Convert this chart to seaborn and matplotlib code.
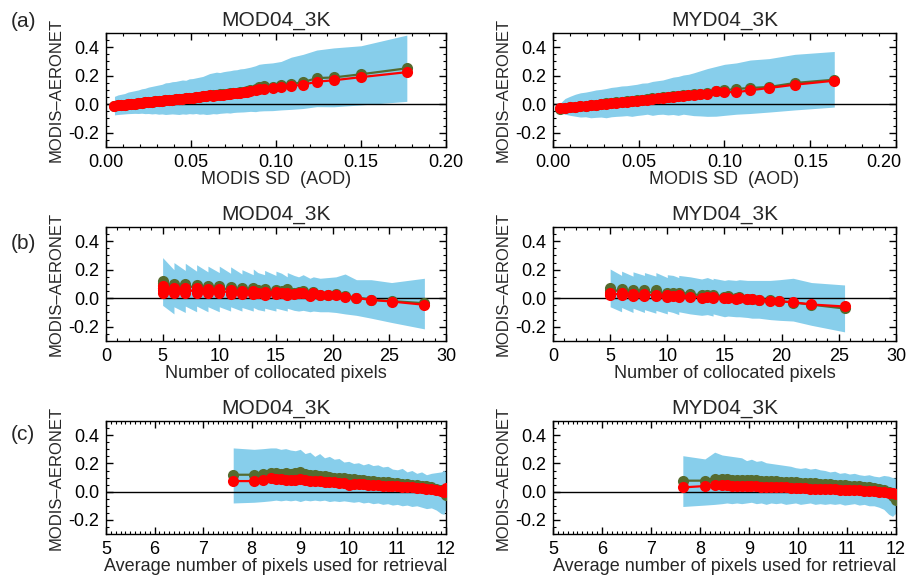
import numpy as np
import pandas as pd
import matplotlib
matplotlib.use("Agg")
import matplotlib.pyplot as plt
import seaborn as sns
from matplotlib.ticker import MultipleLocator, FormatStrFormatter, FuncFormatter
from matplotlib.transforms import ScaledTranslation

# ---- (a) bias vs MODIS SD ----
xa_mod = [0.005, 0.007, 0.009, 0.011, 0.013, 0.015, 0.017, 0.019, 0.021, 0.023, 0.025, 0.027, 0.029,
          0.031, 0.033, 0.035, 0.037, 0.039, 0.041, 0.043, 0.045, 0.047, 0.049, 0.051, 0.053, 0.055,
          0.057, 0.059, 0.061, 0.063, 0.065, 0.067, 0.069, 0.071, 0.073, 0.075, 0.077, 0.079, 0.081,
          0.083, 0.085, 0.088, 0.090, 0.093, 0.098, 0.103, 0.109, 0.116, 0.124, 0.134, 0.150, 0.177]
red_a_mod = [-0.012, -0.008, -0.005, -0.002, 0.000, 0.003, 0.005, 0.008, 0.010, 0.013, 0.015, 0.018, 0.020,
             0.022, 0.025, 0.027, 0.030, 0.032, 0.035, 0.037, 0.040, 0.042, 0.045, 0.047, 0.050, 0.052,
             0.055, 0.057, 0.062, 0.060, 0.064, 0.066, 0.068, 0.071, 0.073, 0.076, 0.078, 0.080, 0.083,
             0.085, 0.090, 0.098, 0.106, 0.110, 0.112, 0.122, 0.128, 0.137, 0.158, 0.168, 0.190, 0.225]
grn_a_mod = [-0.012, -0.008, -0.005, -0.002, 0.000, 0.003, 0.005, 0.008, 0.010, 0.013, 0.015, 0.018, 0.020,
             0.022, 0.025, 0.027, 0.030, 0.032, 0.035, 0.037, 0.040, 0.042, 0.045, 0.047, 0.050, 0.052,
             0.056, 0.060, 0.066, 0.066, 0.068, 0.070, 0.072, 0.075, 0.077, 0.080, 0.082, 0.084, 0.087,
             0.090, 0.097, 0.110, 0.122, 0.128, 0.122, 0.138, 0.142, 0.155, 0.183, 0.188, 0.210, 0.252]
up_a_mod = [0.055, 0.065, 0.070, 0.075, 0.085, 0.090, 0.095, 0.100, 0.108, 0.112, 0.120, 0.125, 0.130,
            0.135, 0.140, 0.150, 0.152, 0.158, 0.160, 0.165, 0.170, 0.168, 0.178, 0.180, 0.185, 0.190,
            0.195, 0.205, 0.215, 0.220, 0.225, 0.222, 0.228, 0.232, 0.235, 0.240, 0.242, 0.248, 0.250,
            0.255, 0.260, 0.270, 0.280, 0.285, 0.290, 0.300, 0.330, 0.350, 0.380, 0.395, 0.410, 0.485]
lo_a_mod = [-0.075, -0.072, -0.070, -0.068, -0.066, -0.065, -0.064, -0.065, -0.063, -0.066, -0.065, -0.068, -0.066,
            -0.070, -0.068, -0.072, -0.070, -0.068, -0.070, -0.072, -0.068, -0.070, -0.066, -0.068, -0.065, -0.070,
            -0.068, -0.072, -0.070, -0.066, -0.068, -0.064, -0.062, -0.060, -0.062, -0.058, -0.056, -0.055, -0.054,
            -0.052, -0.050, -0.052, -0.048, -0.046, -0.045, -0.040, -0.036, -0.030, -0.017, -0.018, -0.005, 0.020]

xa_myd = [0.004, 0.007, 0.010, 0.013, 0.016, 0.019, 0.022, 0.025, 0.028, 0.031, 0.034, 0.037, 0.040,
          0.043, 0.046, 0.049, 0.052, 0.055, 0.058, 0.061, 0.064, 0.067, 0.070, 0.073, 0.076, 0.079,
          0.082, 0.086, 0.090, 0.095, 0.100, 0.107, 0.115, 0.126, 0.141, 0.164]
red_a_myd = [-0.026, -0.023, -0.020, -0.017, -0.013, -0.010, -0.007, -0.003, 0.000, 0.004, 0.008, 0.011, 0.015,
             0.018, 0.022, 0.026, 0.030, 0.033, 0.037, 0.041, 0.044, 0.048, 0.052, 0.055, 0.058, 0.062,
             0.066, 0.070, 0.074, 0.090, 0.086, 0.084, 0.098, 0.114, 0.137, 0.165]
grn_a_myd = [-0.030, -0.025, -0.021, -0.017, -0.013, -0.010, -0.006, -0.002, 0.002, 0.006, 0.010, 0.014, 0.018,
             0.021, 0.025, 0.029, 0.033, 0.037, 0.041, 0.045, 0.049, 0.053, 0.057, 0.061, 0.064, 0.068,
             0.072, 0.075, 0.080, 0.092, 0.098, 0.107, 0.114, 0.121, 0.149, 0.172]
up_a_myd = [0.005, 0.040, 0.056, 0.070, 0.080, 0.085, 0.092, 0.100, 0.104, 0.110, 0.118, 0.122, 0.128,
            0.130, 0.135, 0.140, 0.148, 0.150, 0.160, 0.165, 0.170, 0.180, 0.190, 0.195, 0.205, 0.210,
            0.220, 0.235, 0.250, 0.265, 0.280, 0.290, 0.310, 0.320, 0.350, 0.370]
lo_a_myd = [-0.060, -0.070, -0.078, -0.084, -0.090, -0.088, -0.095, -0.092, -0.090, -0.095, -0.088, -0.085, -0.083,
            -0.080, -0.085, -0.079, -0.075, -0.070, -0.078, -0.072, -0.070, -0.075, -0.072, -0.078, -0.070, -0.075,
            -0.080, -0.082, -0.085, -0.084, -0.078, -0.070, -0.065, -0.055, -0.040, -0.020]

# ---- (b) bias vs number of collocated pixels ----
xb_mod = [5, 5, 5, 5, 6, 6, 6, 7, 7, 7, 8, 8, 8, 9, 9, 9, 10, 10, 10, 11, 11, 11, 12, 12, 13, 13, 13.4,
          14, 14, 15, 15, 15.5, 16, 16, 16.6, 17, 17.4, 18, 18.3, 18.9, 19.6, 20.3, 21.1, 22.1, 23.4, 25.2, 28.1]
red_b_mod = [0.040, 0.055, 0.070, 0.085, 0.040, 0.060, 0.075, 0.040, 0.060, 0.075, 0.035, 0.055, 0.070,
             0.035, 0.050, 0.065, 0.035, 0.050, 0.065, 0.030, 0.045, 0.060, 0.030, 0.050, 0.030, 0.050, 0.040,
             0.025, 0.045, 0.030, 0.045, 0.035, 0.025, 0.040, 0.030, 0.035, 0.035, 0.015, 0.040, 0.020, 0.020,
             0.023, 0.012, 0.002, -0.012, -0.023, -0.046]
grn_b_mod = [0.075, 0.090, 0.105, 0.120, 0.070, 0.085, 0.100, 0.070, 0.085, 0.100, 0.065, 0.080, 0.095,
             0.055, 0.070, 0.085, 0.055, 0.070, 0.085, 0.050, 0.065, 0.080, 0.050, 0.070, 0.050, 0.070, 0.060,
             0.045, 0.065, 0.045, 0.060, 0.050, 0.040, 0.065, 0.040, 0.045, 0.050, 0.025, 0.045, 0.020, 0.025,
             0.030, 0.015, 0.005, -0.010, -0.020, -0.035]
up_b_mod = [0.220, 0.240, 0.260, 0.285, 0.200, 0.225, 0.250, 0.195, 0.220, 0.245, 0.190, 0.210, 0.235,
            0.185, 0.205, 0.225, 0.180, 0.200, 0.225, 0.175, 0.195, 0.220, 0.170, 0.200, 0.165, 0.205, 0.180,
            0.165, 0.195, 0.160, 0.190, 0.175, 0.150, 0.180, 0.160, 0.150, 0.165, 0.140, 0.150, 0.140, 0.145,
            0.150, 0.170, 0.130, 0.130, 0.110, 0.140]
lo_b_mod = [-0.085, -0.070, -0.060, -0.050, -0.110, -0.080, -0.060, -0.100, -0.075, -0.055, -0.095, -0.075, -0.055,
            -0.095, -0.075, -0.060, -0.095, -0.075, -0.060, -0.090, -0.075, -0.060, -0.090, -0.065, -0.090, -0.065, -0.080,
            -0.090, -0.070, -0.090, -0.070, -0.080, -0.090, -0.070, -0.085, -0.090, -0.085, -0.095, -0.090, -0.095, -0.095,
            -0.100, -0.110, -0.120, -0.140, -0.170, -0.215]

xb_myd = [5, 5, 5, 6, 6, 6, 7, 7, 7, 8, 8, 9, 9, 10, 10, 10.5, 11, 11, 12, 13, 13.5, 14, 14, 15, 15.3,
          16, 16.3, 17, 17.4, 18, 19, 19.8, 21, 22.6, 25.5]
red_b_myd = [0.020, 0.030, 0.040, 0.020, 0.030, 0.035, 0.015, 0.025, 0.030, 0.015, 0.030, 0.015, 0.025,
             0.010, 0.020, 0.015, 0.010, 0.020, 0.012, 0.005, 0.008, 0.002, 0.010, 0.000, 0.003,
             -0.002, 0.000, -0.005, -0.008, -0.012, -0.016, -0.022, -0.028, -0.044, -0.058]
grn_b_myd = [0.045, 0.055, 0.070, 0.040, 0.050, 0.065, 0.035, 0.045, 0.060, 0.035, 0.055, 0.030, 0.055,
             0.025, 0.040, 0.035, 0.025, 0.040, 0.030, 0.020, 0.025, 0.015, 0.025, 0.012, 0.015,
             0.005, 0.008, -0.002, -0.004, -0.010, -0.015, -0.020, -0.030, -0.045, -0.072]
up_b_myd = [0.160, 0.180, 0.205, 0.160, 0.175, 0.190, 0.155, 0.170, 0.185, 0.160, 0.180, 0.155, 0.180,
            0.145, 0.165, 0.160, 0.145, 0.160, 0.150, 0.135, 0.145, 0.130, 0.140, 0.125, 0.130,
            0.125, 0.130, 0.125, 0.125, 0.125, 0.125, 0.130, 0.140, 0.110, 0.093]
lo_b_myd = [-0.075, -0.065, -0.060, -0.095, -0.075, -0.065, -0.100, -0.080, -0.070, -0.100, -0.080, -0.105, -0.085,
            -0.110, -0.090, -0.100, -0.115, -0.095, -0.110, -0.120, -0.115, -0.125, -0.110, -0.130, -0.125,
            -0.130, -0.130, -0.135, -0.140, -0.140, -0.150, -0.155, -0.160, -0.190, -0.236]

# ---- (c) bias vs average number of pixels used for retrieval ----
xc_mod = [7.62, 8.05, 8.24, 8.39, 8.5, 8.6, 8.7, 8.8, 8.9, 9.0, 9.1, 9.2, 9.3, 9.4, 9.5, 9.6, 9.7, 9.8, 9.9,
          10.0, 10.1, 10.2, 10.3, 10.4, 10.5, 10.6, 10.7, 10.8, 10.9, 11.0, 11.1, 11.2, 11.3, 11.4, 11.5,
          11.6, 11.7, 11.8, 11.9, 11.96, 12.0]
red_c_mod = [0.075, 0.075, 0.085, 0.095, 0.090, 0.088, 0.085, 0.085, 0.082, 0.090, 0.080, 0.078, 0.075, 0.073,
             0.070, 0.068, 0.066, 0.062, 0.060, 0.050, 0.057, 0.055, 0.052, 0.050, 0.047, 0.045, 0.043, 0.041,
             0.038, 0.037, 0.035, 0.032, 0.030, 0.027, 0.025, 0.020, 0.018, 0.015, 0.008, 0.000, 0.025]
grn_c_mod = [0.120, 0.120, 0.125, 0.135, 0.130, 0.128, 0.130, 0.128, 0.132, 0.140, 0.125, 0.120, 0.115, 0.112,
             0.110, 0.105, 0.100, 0.098, 0.095, 0.090, 0.088, 0.085, 0.080, 0.078, 0.075, 0.072, 0.070, 0.067,
             0.063, 0.060, 0.057, 0.053, 0.050, 0.046, 0.042, 0.037, 0.030, 0.022, 0.012, 0.000, -0.022]
up_c_mod = [0.310, 0.300, 0.305, 0.310, 0.310, 0.300, 0.305, 0.295, 0.290, 0.300, 0.270, 0.280, 0.250, 0.270,
            0.240, 0.250, 0.230, 0.235, 0.210, 0.215, 0.200, 0.205, 0.190, 0.200, 0.185, 0.190, 0.175, 0.180,
            0.160, 0.155, 0.165, 0.140, 0.150, 0.130, 0.140, 0.120, 0.130, 0.135, 0.140, 0.150, 0.140]
lo_c_mod = [-0.080, -0.075, -0.070, -0.065, -0.060, -0.065, -0.060, -0.065, -0.060, -0.070, -0.060, -0.065, -0.060,
            -0.065, -0.060, -0.070, -0.065, -0.070, -0.065, -0.070, -0.075, -0.070, -0.080, -0.075, -0.085, -0.080,
            -0.090, -0.085, -0.095, -0.090, -0.100, -0.095, -0.105, -0.100, -0.110, -0.120, -0.115, -0.130, -0.155,
            -0.160, -0.120]

xc_myd = [7.65, 8.1, 8.3, 8.45, 8.55, 8.65, 8.75, 8.85, 8.95, 9.05, 9.15, 9.25, 9.35, 9.45, 9.55, 9.65, 9.75,
          9.85, 9.95, 10.05, 10.15, 10.25, 10.35, 10.45, 10.55, 10.65, 10.75, 10.85, 10.95, 11.05, 11.15,
          11.25, 11.35, 11.45, 11.55, 11.65, 11.75, 11.85, 11.93, 12.0]
red_c_myd = [0.030, 0.040, 0.047, 0.045, 0.045, 0.042, 0.043, 0.040, 0.040, 0.038, 0.037, 0.036, 0.035, 0.033,
             0.032, 0.031, 0.030, 0.028, 0.026, 0.024, 0.023, 0.022, 0.021, 0.020, 0.018, 0.017, 0.016, 0.015,
             0.013, 0.012, 0.011, 0.010, 0.008, 0.006, 0.004, 0.000, -0.003, -0.006, -0.010, -0.015]
grn_c_myd = [0.078, 0.078, 0.092, 0.088, 0.087, 0.086, 0.086, 0.085, 0.084, 0.083, 0.080, 0.078, 0.076, 0.075,
             0.073, 0.072, 0.070, 0.068, 0.066, 0.065, 0.062, 0.060, 0.058, 0.056, 0.054, 0.052, 0.050, 0.048,
             0.045, 0.042, 0.040, 0.037, 0.035, 0.032, 0.028, 0.022, 0.015, 0.000, -0.030, -0.062]
up_c_myd = [0.255, 0.232, 0.280, 0.260, 0.255, 0.250, 0.245, 0.240, 0.220, 0.230, 0.215, 0.220, 0.205, 0.200,
            0.195, 0.190, 0.185, 0.180, 0.170, 0.165, 0.170, 0.160, 0.165, 0.155, 0.150, 0.140, 0.145, 0.130,
            0.135, 0.125, 0.130, 0.120, 0.115, 0.120, 0.110, 0.105, 0.115, 0.110, 0.100, 0.095]
lo_c_myd = [-0.105, -0.095, -0.090, -0.085, -0.080, -0.085, -0.080, -0.085, -0.080, -0.075, -0.085, -0.080, -0.090,
            -0.080, -0.085, -0.080, -0.090, -0.085, -0.080, -0.090, -0.085, -0.080, -0.090, -0.085, -0.090, -0.085,
            -0.090, -0.085, -0.095, -0.090, -0.085, -0.095, -0.090, -0.100, -0.100, -0.110, -0.125, -0.160, -0.175,
            -0.150]

panels = [
    ("MOD04_3K", xa_mod, grn_a_mod, red_a_mod, up_a_mod, lo_a_mod),
    ("MYD04_3K", xa_myd, grn_a_myd, red_a_myd, up_a_myd, lo_a_myd),
    ("MOD04_3K", xb_mod, grn_b_mod, red_b_mod, up_b_mod, lo_b_mod),
    ("MYD04_3K", xb_myd, grn_b_myd, red_b_myd, up_b_myd, lo_b_myd),
    ("MOD04_3K", xc_mod, grn_c_mod, red_c_mod, up_c_mod, lo_c_mod),
    ("MYD04_3K", xc_myd, grn_c_myd, red_c_myd, up_c_myd, lo_c_myd),
]
xlabels = ["MODIS SD  (AOD)", "Number of collocated pixels", "Average number of pixels used for retrieval"]
xlims = [(0, 0.2), (0, 30), (5, 12)]
xmajor = [0.05, 5, 1]
xminor = [0.01, 1, 0.1]
letters = ["(a)", "(b)", "(c)"]

sns.set_style("ticks")
plt.rcParams["font.family"] = ["Liberation Sans", "DejaVu Sans"]

fig = plt.figure(figsize=(9.08, 5.76), dpi=100)
lefts = [0.1167, 0.609]
widths = [0.3744, 0.3778]
bottoms = [0.7448, 0.408, 0.0729]
heights = [0.198, 0.198, 0.196]

for i, (title, x, g, r, up, lo) in enumerate(panels):
    row, col = i // 2, i % 2
    ax = fig.add_axes([lefts[col], bottoms[row], widths[col], heights[row]])
    ax.fill_between(x, lo, up, color="#87ceeb", linewidth=0, zorder=1)
    ax.axhline(0, color="black", linewidth=1.0, zorder=2)
    df = pd.DataFrame({"x": x, "g": g, "r": r})
    sns.lineplot(data=df, x="x", y="g", ax=ax, color="#556b2f", marker="o", markersize=8,
                 markeredgewidth=0, linewidth=1.6, estimator=None, sort=False, zorder=3)
    sns.lineplot(data=df, x="x", y="r", ax=ax, color="#ff0000", marker="o", markersize=8,
                 markeredgewidth=0, linewidth=1.6, estimator=None, sort=False, zorder=4)
    ax.set_xlim(*xlims[row])
    ax.set_ylim(-0.3, 0.5)
    ax.xaxis.set_major_locator(MultipleLocator(xmajor[row]))
    ax.xaxis.set_minor_locator(MultipleLocator(xminor[row]))
    ax.yaxis.set_major_locator(MultipleLocator(0.2))
    ax.yaxis.set_minor_locator(MultipleLocator(0.05))
    ax.yaxis.set_major_formatter(FormatStrFormatter("%.1f"))
    if row == 0 and col == 1:
        # last label drawn separately (shifted left) so it stays on the canvas
        ax.xaxis.set_major_formatter(FuncFormatter(lambda v, p: "" if v > 0.199 else "%.2f" % v))
        ax.text(0.2, 0, "0.20", transform=ax.get_xaxis_transform()
                + ScaledTranslation(-9 / 72, -5 / 72, fig.dpi_scale_trans),
                ha="center", va="top", fontsize=13, color="black")
    elif row == 0:
        ax.xaxis.set_major_formatter(FormatStrFormatter("%.2f"))
    else:
        ax.xaxis.set_major_formatter(FormatStrFormatter("%d"))
    ax.tick_params(which="both", direction="in", top=True, right=True, labelsize=13, colors="black")
    ax.tick_params(which="major", length=5, width=1, pad=5)
    ax.tick_params(which="minor", length=2.5, width=0.8)
    for sp in ax.spines.values():
        sp.set_color("black")
        sp.set_linewidth(1.0)
    ax.set_title(title, fontsize=15, pad=5)
    ax.set_xlabel(xlabels[row], fontsize=13, labelpad=0)
    ax.set_ylabel("MODIS\u2013AERONET", fontsize=12, labelpad=3)

for row, letter in enumerate(letters):
    fig.text(0.012, [0.962, 0.578, 0.246][row], letter, fontsize=15, ha="left", va="center")

fig.savefig("out.png", dpi=100)
